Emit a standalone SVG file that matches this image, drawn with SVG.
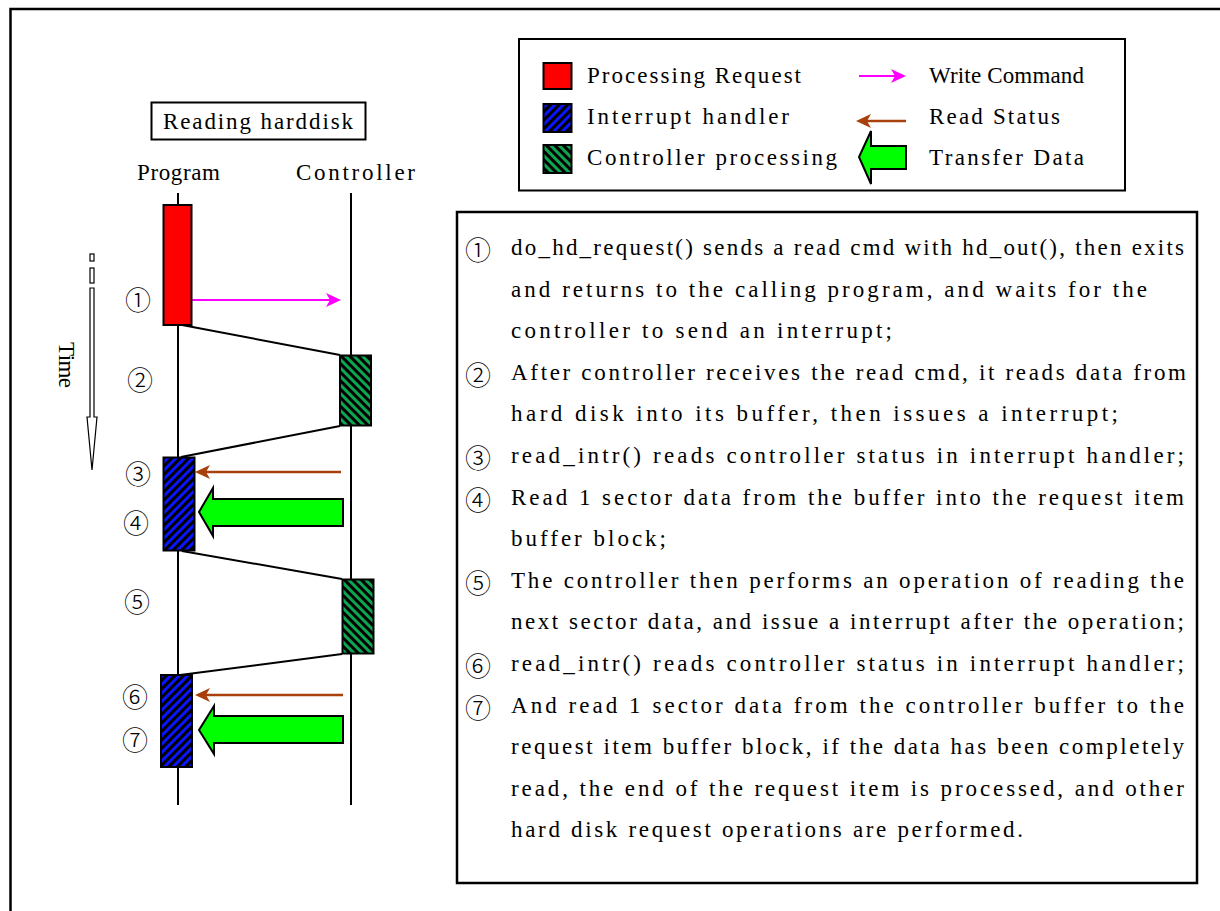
<svg xmlns="http://www.w3.org/2000/svg" width="1220" height="911" viewBox="0 0 1220 911">
  <style>
    .t { font-family: "Liberation Serif", "Times New Roman", serif; font-size: 23px; fill: #000; }
    .n { font-family: "Noto Sans CJK SC", "DejaVu Sans", sans-serif; font-size: 26px; font-weight: 300; fill: #000; text-anchor: middle; dominant-baseline: central; }
    .ln { stroke: #000; stroke-width: 2; fill: none; }
    .box { stroke: #000; stroke-width: 2; }
    .mag { stroke: #FF00FF; stroke-width: 2; fill: none; }
    .brn { stroke: #A8400C; stroke-width: 2.5; fill: none; }
    .big { fill: #00FF00; stroke: #000; stroke-width: 2; stroke-linejoin: miter; }
  </style>
  <defs>
    <pattern id="hatchBlue" patternUnits="userSpaceOnUse" width="6" height="6" patternTransform="rotate(45)">
      <rect width="6" height="6" fill="#0A14FF"/>
      <rect width="3" height="6" fill="#000"/>
    </pattern>
    <pattern id="hatchGreen" patternUnits="userSpaceOnUse" width="6" height="6" patternTransform="rotate(-45)">
      <rect width="6" height="6" fill="#0DA650"/>
      <rect width="3" height="6" fill="#000"/>
    </pattern>
    <marker id="mMag" markerUnits="userSpaceOnUse" markerWidth="15" markerHeight="14" viewBox="0 0 15 14" refX="4" refY="7" orient="auto">
      <path d="M0,0 L15,7 L0,14 L4,7 Z" fill="#FF00FF"/>
    </marker>
    <marker id="mBrn" markerUnits="userSpaceOnUse" markerWidth="15" markerHeight="14" viewBox="0 0 15 14" refX="4" refY="7" orient="auto">
      <path d="M0,0 L15,7 L0,14 L4,7 Z" fill="#A8400C"/>
    </marker>
  </defs>

  <rect width="1220" height="911" fill="#fff"/>
  <path d="M10.5,911 L10.5,9 L1220,9" stroke="#000" stroke-width="2.5" fill="none"/>

  <g id="title">
    <rect x="151.5" y="102.5" width="214" height="37" fill="#fff" stroke="#000" stroke-width="2"/>
    <text class="t" x="163" y="129" textLength="190" lengthAdjust="spacing">Reading harddisk</text>
  </g>

  <g id="program-label"><text class="t" x="137" y="180" textLength="83" lengthAdjust="spacing">Program</text></g>
  <g id="controller-label"><text class="t" x="296" y="180" textLength="119" lengthAdjust="spacing">Controller</text></g>

  <g id="time-axis">
    <rect x="90" y="254" width="4" height="7" fill="#fff" stroke="#000" stroke-width="1.2"/>
    <rect x="90" y="268" width="4" height="15" fill="#fff" stroke="#000" stroke-width="1.2"/>
    <path d="M90,288 L94,288 L94,417 L97,417 L92,470 L87,417 L90,417 Z" fill="#fff" stroke="#000" stroke-width="1.2"/>
    <text class="t" transform="translate(59,342) rotate(90)" x="0" y="0" font-size="21" textLength="46" lengthAdjust="spacing">Time</text>
  </g>

  <g id="connectors">
    <line class="ln" x1="178" y1="193" x2="178" y2="805"/>
    <line class="ln" x1="351" y1="193" x2="351" y2="805"/>
    <line class="ln" x1="182" y1="325" x2="340" y2="355"/>
    <line class="ln" x1="340" y1="426" x2="181" y2="457"/>
    <line class="ln" x1="182" y1="551" x2="342" y2="579"/>
    <line class="ln" x1="342" y1="654" x2="180" y2="675"/>
    <line class="mag" x1="192" y1="300" x2="330" y2="300" marker-end="url(#mMag)"/>
    <line class="brn" x1="341" y1="472" x2="206" y2="472" marker-end="url(#mBrn)"/>
    <path class="big" d="M343,499 L213,499 L213,488 L199,512 L213,536 L213,526 L343,526 Z"/>
    <line class="brn" x1="343" y1="695" x2="206" y2="695" marker-end="url(#mBrn)"/>
    <path class="big" d="M343,716 L214,716 L214,706 L199,730 L214,754 L214,743 L343,743 Z"/>
  </g>

  <g id="req1"><rect class="box" x="163.5" y="205" width="28" height="120" fill="#FF0000"/></g>
  <g id="ctrl1"><rect class="box" x="340" y="355.5" width="31" height="70" fill="url(#hatchGreen)"/></g>
  <g id="intr1"><rect class="box" x="163.5" y="457.5" width="31" height="93" fill="url(#hatchBlue)"/></g>
  <g id="ctrl2"><rect class="box" x="342.5" y="579.5" width="31" height="74" fill="url(#hatchGreen)"/></g>
  <g id="intr2"><rect class="box" x="161" y="675" width="31" height="92" fill="url(#hatchBlue)"/></g>

  <g id="steps">
    <text class="n" x="138" y="298">①</text>
    <text class="n" x="140" y="378">②</text>
    <text class="n" x="138" y="472">③</text>
    <text class="n" x="136" y="521">④</text>
    <text class="n" x="137" y="600">⑤</text>
    <text class="n" x="135" y="695">⑥</text>
    <text class="n" x="135" y="738">⑦</text>
  </g>

  <g id="legend">
    <rect x="519" y="39" width="606" height="151.5" fill="#fff" stroke="#000" stroke-width="2"/>
    <rect class="box" x="543.5" y="63" width="28" height="26" fill="#FF0000"/>
    <rect class="box" x="543.5" y="104" width="28" height="28" fill="url(#hatchBlue)"/>
    <rect class="box" x="543.5" y="145" width="28" height="28" fill="url(#hatchGreen)"/>
    <text class="t" x="587" y="83" textLength="214" lengthAdjust="spacing">Processing Request</text>
    <text class="t" x="587" y="124" textLength="202" lengthAdjust="spacing">Interrupt handler</text>
    <text class="t" x="587" y="165" textLength="250" lengthAdjust="spacing">Controller processing</text>
    <line class="mag" x1="859" y1="76" x2="895" y2="76" marker-end="url(#mMag)"/>
    <line class="brn" x1="906" y1="121" x2="867" y2="121" marker-end="url(#mBrn)"/>
    <path class="big" d="M906,146 L871,146 L871,131 L859,157 L871,184 L871,169 L906,169 Z"/>
    <text class="t" x="929" y="83" textLength="155" lengthAdjust="spacing">Write Command</text>
    <text class="t" x="929" y="124" textLength="131" lengthAdjust="spacing">Read Status</text>
    <text class="t" x="929" y="165" textLength="155" lengthAdjust="spacing">Transfer Data</text>
  </g>

  <g id="description">
    <rect x="457" y="212" width="740" height="671" fill="#fff" stroke="#000" stroke-width="2.5"/>
    <text class="n" x="478" y="248">①</text>
    <text class="n" x="478" y="373">②</text>
    <text class="n" x="478" y="456">③</text>
    <text class="n" x="478" y="498">④</text>
    <text class="n" x="478" y="581">⑤</text>
    <text class="n" x="478" y="664">⑥</text>
    <text class="n" x="478" y="706">⑦</text>
    <text class="t" x="511" y="255" textLength="673" lengthAdjust="spacing">do_hd_request() sends a read cmd with hd_out(), then exits</text>
    <text class="t" x="511" y="296.6" textLength="636" lengthAdjust="spacing">and returns to the calling program, and waits for the</text>
    <text class="t" x="511" y="338.2" textLength="381" lengthAdjust="spacing">controller to send an interrupt;</text>
    <text class="t" x="511" y="379.8" textLength="675" lengthAdjust="spacing">After controller receives the read cmd, it reads data from</text>
    <text class="t" x="511" y="421.4" textLength="607" lengthAdjust="spacing">hard disk into its buffer, then issues a interrupt;</text>
    <text class="t" x="511" y="463" textLength="673" lengthAdjust="spacing">read_intr() reads controller status in interrupt handler;</text>
    <text class="t" x="511" y="504.6" textLength="673" lengthAdjust="spacing">Read 1 sector data from the buffer into the request item</text>
    <text class="t" x="511" y="546.2" textLength="155" lengthAdjust="spacing">buffer block;</text>
    <text class="t" x="511" y="587.8" textLength="673" lengthAdjust="spacing">The controller then performs an operation of reading the</text>
    <text class="t" x="511" y="629.4" textLength="673" lengthAdjust="spacing">next sector data, and issue a interrupt after the operation;</text>
    <text class="t" x="511" y="671" textLength="673" lengthAdjust="spacing">read_intr() reads controller status in interrupt handler;</text>
    <text class="t" x="511" y="712.6" textLength="673" lengthAdjust="spacing">And read 1 sector data from the controller buffer to the</text>
    <text class="t" x="511" y="754.2" textLength="673" lengthAdjust="spacing">request item buffer block, if the data has been completely</text>
    <text class="t" x="511" y="795.8" textLength="673" lengthAdjust="spacing">read, the end of the request item is processed, and other</text>
    <text class="t" x="511" y="837.4" textLength="512" lengthAdjust="spacing">hard disk request operations are performed.</text>
  </g>
</svg>
